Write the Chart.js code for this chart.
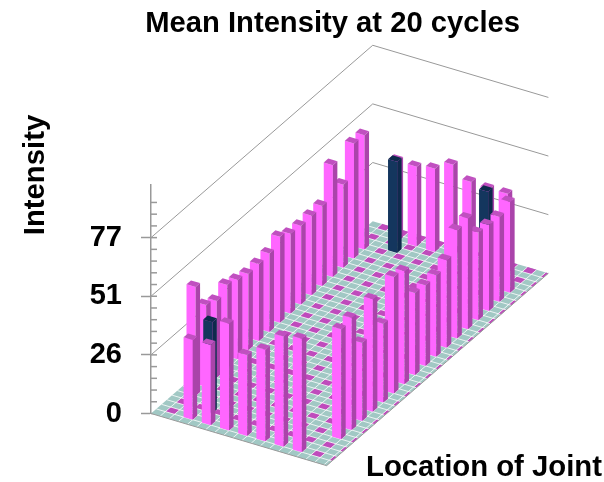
<!DOCTYPE html>
<html>
<head>
<meta charset="utf-8">
<style>
html, body { margin: 0; padding: 0; background: #fff; overflow: hidden; }
canvas { display: block; }
</style>
<script src="https://cdn.jsdelivr.net/npm/chart.js@4"></script>
</head>
<body>
<canvas id="intensityChart" width="604" height="482"></canvas>
<script>
const chartTitle = 'Mean Intensity at 20 cycles';
const yAxisTitle = 'Intensity';
const xAxisTitle = 'Location of Joint';

// floor tiles: a runs towards the viewer, b runs to the back
const sideRows = [5, 7, 9, 11, 13, 15, 17, 19, 21, 23, 25, 27, 29, 31, 33, 35, 37];
const leftValues = [47.6, 35.7, 33.5, 36.5, 34.7, 33.3, 33.6, 34.2, 37.5, 34.8, 34.3, 34.7, 35, 48.8, 36.3, 50.3, 49.9];
const rightValues = [48, 49, 34.1, 49.1, 34.4, 50.9, 49.4, 35.9, 35.2, 35.6, 38.2, 47.3, 48.4, 38.2, 37.5, 37.1, 39.6];
const endCols = [3, 5, 7, 9, 11, 13, 15];
const frontValues = [34.8, 35, 46.6, 35.3, 40, 48.1, 49.5];
const backValues = [35, 34.8, 36.3, 40.4, 35.3, 34.6, 34.8];
const navyCols = [4, 4, 14];
const navyRows = [3, 38, 38];
const navyValues = [39.8, 39.8, 38.5];

const leftCol = 1, rightCol = 17, frontRow = 1, backRow = 40;
const floorCols = 19.3, floorRows = 42;

const pinkPoints = [];
sideRows.forEach(function(b, n) {
    pinkPoints.push({x: leftCol, y: leftValues[n], b: b});
    pinkPoints.push({x: rightCol, y: rightValues[n], b: b});
});
endCols.forEach(function(a, n) {
    pinkPoints.push({x: a, y: frontValues[n], b: frontRow});
    pinkPoints.push({x: a, y: backValues[n], b: backRow});
});
const navyPoints = navyValues.map(function(v, n) {
    return {x: navyCols[n], y: v, b: navyRows[n]};
});

const riseA = 1.18, riseB = 2.0;     // floor slope, in intensity units per tile
const barA = 1.0, barB = 0.85;       // bar footprint, in tiles

const prismPlugin = {
    id: 'prisms',
    beforeDatasetsDraw: function(chart) {
        const ctx = chart.ctx;
        const xa = chart.scales.x, xb = chart.scales.xb, y = chart.scales.y;
        const left = chart.chartArea.left;
        function pt(a, b, v) {
            return [xa.getPixelForValue(a) + xb.getPixelForValue(b) - left,
                    y.getPixelForValue(v + b * riseB - a * riseA)];
        }
        function poly(points, fill) {
            ctx.beginPath();
            points.forEach(function(p, i) {
                if(i === 0) ctx.moveTo(p[0], p[1]); else ctx.lineTo(p[0], p[1]);
            });
            ctx.closePath();
            ctx.fillStyle = fill;
            ctx.fill();
        }
        function line(p, q, color, width) {
            ctx.beginPath();
            ctx.moveTo(p[0], p[1]);
            ctx.lineTo(q[0], q[1]);
            ctx.strokeStyle = color;
            ctx.lineWidth = width;
            ctx.stroke();
        }

        ctx.save();

        // minor stubs on the inner side of the axis
        y.ticks.forEach(function(t) {
            const py = y.getPixelForValue(t.value);
            line([left, py], [left + 6, py], '#999999', 1.5);
        });

        // wall lines at the labelled levels
        [25.6, 51.2, 76.8].forEach(function(v) {
            line(pt(0, 0, v), pt(0, floorRows, v), '#999999', 1);
            line(pt(0, floorRows, v), pt(floorCols, floorRows, v), '#999999', 1);
        });

        // floor
        poly([pt(0, 0, 0), pt(floorCols, 0, 0), pt(floorCols, floorRows, 0), pt(0, floorRows, 0)], '#a1c8c4');
        for(let a = 1; a < floorCols; a += 2) {
            for(let b = 1; b < floorRows; b += 2) {
                const a2 = Math.min(a + 1, floorCols);
                poly([pt(a, b, 0), pt(a2, b, 0), pt(a2, b + 1, 0), pt(a, b + 1, 0)], '#bf4bbc');
            }
        }
        for(let a = 1; a < floorCols; a++) line(pt(a, 0, 0), pt(a, floorRows, 0), '#ffffff', 0.8);
        for(let b = 1; b < floorRows; b++) line(pt(0, b, 0), pt(floorCols, b, 0), '#ffffff', 0.8);
        line(pt(0, 0, 0), pt(floorCols, 0, 0), '#9a9a9a', 1);
        line(pt(floorCols, 0, 0), pt(floorCols, floorRows, 0), '#9a9a9a', 1);

        // bars, back to front
        const bars = [];
        chart.data.datasets.forEach(function(ds) {
            ds.data.forEach(function(d) {
                bars.push({a: d.x, b: d.b, v: d.y, ds: ds});
            });
        });
        bars.sort(function(p, q) {
            return (q.b - q.a * 0.5) - (p.b - p.a * 0.5);
        });
        bars.forEach(function(d) {
            const a1 = d.a + barA, b1 = d.b + barB;
            poly([pt(d.a, d.b, 0), pt(a1, d.b, 0), pt(a1, d.b, d.v), pt(d.a, d.b, d.v)], d.ds.backgroundColor);
            poly([pt(a1, d.b, 0), pt(a1, b1, 0), pt(a1, b1, d.v), pt(a1, d.b, d.v)], d.ds.sideColor);
            poly([pt(d.a, d.b, d.v), pt(a1, d.b, d.v), pt(a1, b1, d.v), pt(d.a, b1, d.v)], d.ds.topColor);
        });

        // axis titles
        ctx.fillStyle = '#000';
        ctx.font = 'bold 29.3px "Liberation Sans", Arial, sans-serif';
        ctx.textBaseline = 'middle';
        ctx.textAlign = 'left';
        ctx.fillText(xAxisTitle, 366, 468);
        ctx.translate(36, 175);
        ctx.rotate(-Math.PI / 2);
        ctx.textAlign = 'center';
        ctx.fillText(yAxisTitle, 0, 0);

        ctx.restore();
    }
};

new Chart(document.getElementById('intensityChart'), {
    type: 'scatter',
    data: {
        datasets: [
            {label: 'Intensity', data: pinkPoints, pointRadius: 0, backgroundColor: '#ff66ff', sideColor: '#aa44aa', topColor: '#c050c0'},
            {label: 'Marked', data: navyPoints, pointRadius: 0, backgroundColor: '#14365e', sideColor: '#0e2a4c', topColor: '#0e2a4c'}
        ]
    },
    options: {
        responsive: false,
        animation: false,
        layout: {padding: {left: 0, right: 84, top: 0, bottom: 68.5}},
        plugins: {
            legend: {display: false},
            tooltip: {enabled: false},
            title: {
                display: true,
                align: 'end',
                text: chartTitle,
                color: '#000',
                font: {family: '"Liberation Sans", Arial, sans-serif', size: 29.2, weight: 'bold'},
                padding: {top: 6.5, bottom: 142.96}
            }
        },
        scales: {
            x: {type: 'linear', display: false, min: 0, max: 40.55},
            xb: {type: 'linear', axis: 'x', position: 'bottom', display: false, min: 0, max: 69.89},
            y: {
                type: 'linear',
                min: 0,
                max: 100,
                afterFit: function(scale) { scale.width = 151; },
                afterBuildTicks: function(scale) {
                    scale.ticks = scale.ticks.filter(function(t) { return t.value < 100; });
                },
                border: {color: '#999999', width: 1.5},
                grid: {
                    drawOnChartArea: false,
                    tickLength: 10,
                    tickWidth: 1.5,
                    tickColor: function(c) { return c.index % 5 === 0 ? '#999999' : 'rgba(0,0,0,0)'; }
                },
                ticks: {
                    stepSize: 5.12,
                    autoSkip: false,
                    padding: 19,
                    color: '#000',
                    font: {family: '"Liberation Sans", Arial, sans-serif', size: 29, weight: 'bold'},
                    callback: function(value, index) {
                        return index % 5 === 0 ? String(Math.round(value)) : '';
                    }
                }
            }
        }
    },
    plugins: [prismPlugin]
});
</script>
</body>
</html>
